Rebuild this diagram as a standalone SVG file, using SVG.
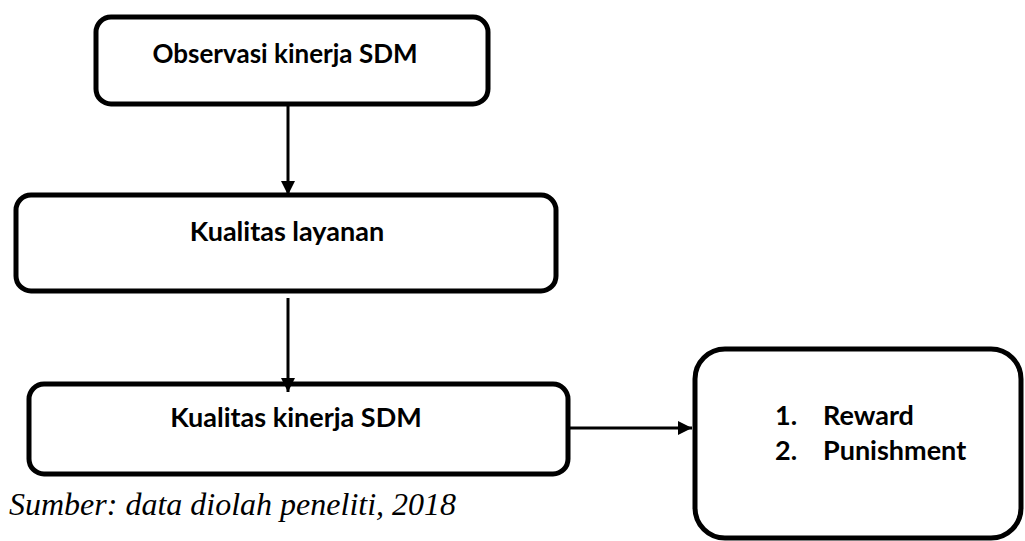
<svg xmlns="http://www.w3.org/2000/svg" width="1025" height="541" viewBox="0 0 1025 541">
<style>
.box{fill:#fff;stroke:#000;stroke-width:5}
.lbl{font-family:Lato,"Noto Sans",sans-serif;font-weight:bold;font-size:27px;fill:#000}
.conn{stroke:#000;stroke-width:3;fill:none}
.src{font-family:"Liberation Serif",serif;font-style:italic;font-size:32px;fill:#000}
</style>
<defs>
<marker id="ah" markerUnits="userSpaceOnUse" markerWidth="16" markerHeight="16" refX="14" refY="7" orient="auto">
<path d="M0,0 L14,7 L0,14 Z" fill="#000"/>
</marker>
</defs>
<rect width="1025" height="541" fill="#fff"/>
<g id="node-observasi">
<rect class="box" x="96" y="17" width="392" height="87" rx="15"/>
<text class="lbl" x="285" y="63" text-anchor="middle" style="font-size:26px">Observasi kinerja SDM</text>
</g>
<g id="node-layanan">
<rect class="box" x="16" y="195" width="540" height="96" rx="15"/>
<text class="lbl" x="287" y="241" text-anchor="middle">Kualitas layanan</text>
</g>
<g id="node-kinerja">
<rect class="box" x="29" y="384" width="539" height="90" rx="15"/>
<text class="lbl" x="296" y="427" text-anchor="middle">Kualitas kinerja SDM</text>
</g>
<g id="node-reward">
<rect class="box" x="695" y="349" width="326" height="189" rx="30"/>
<text class="lbl" x="775" y="425">1.</text>
<text class="lbl" x="823" y="425">Reward</text>
<text class="lbl" x="775" y="460">2.</text>
<text class="lbl" x="823" y="460">Punishment</text>
</g>
<g id="connectors">
<line class="conn" x1="288" y1="106" x2="288" y2="195" marker-end="url(#ah)"/>
<line class="conn" x1="288" y1="298" x2="288" y2="392" marker-end="url(#ah)"/>
<line class="conn" x1="570" y1="428" x2="692" y2="428" marker-end="url(#ah)"/>
</g>
<text class="src" x="9" y="515">Sumber: data diolah peneliti, 2018</text>
</svg>
